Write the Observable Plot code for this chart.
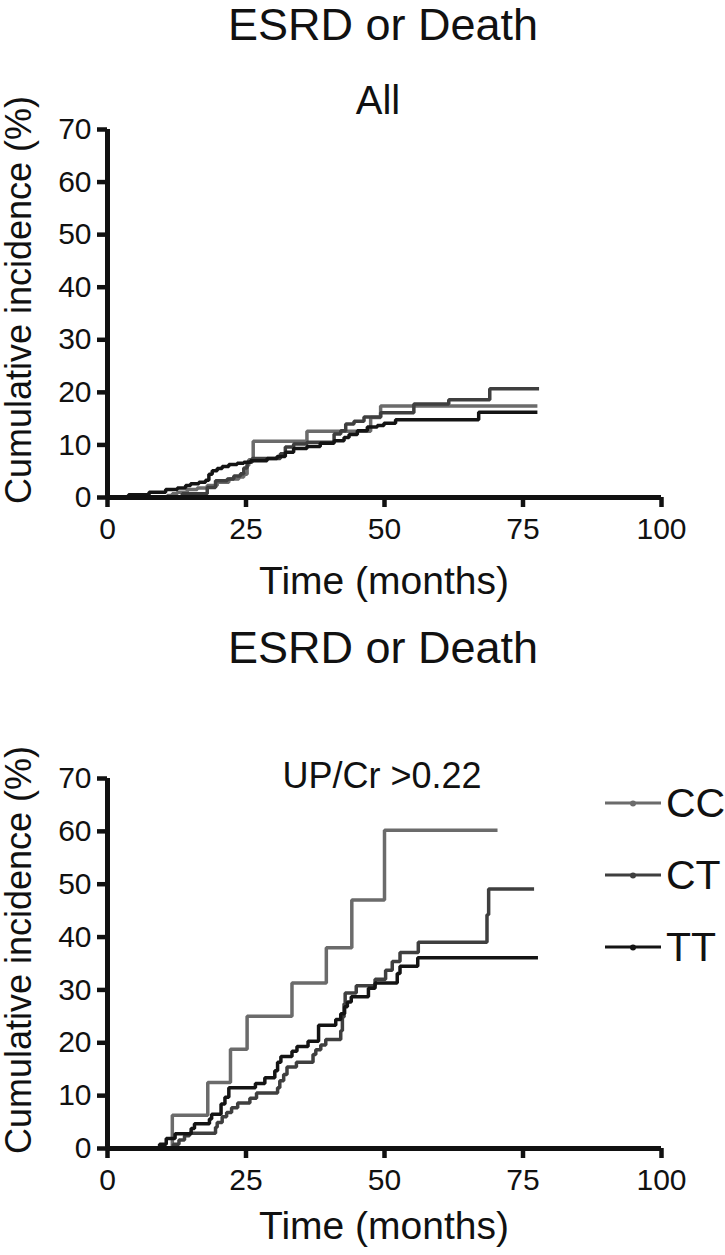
<!DOCTYPE html>
<html>
<head>
<meta charset="utf-8">
<script src="https://cdn.jsdelivr.net/npm/d3@7"></script>
<script src="https://cdn.jsdelivr.net/npm/@observablehq/plot@0.6"></script>
<style>
  html, body { margin: 0; padding: 0; background: #fff; }
  body { width: 725px; height: 1255px; position: relative; overflow: hidden; font-family: "Liberation Sans", Arial, sans-serif; color: #111; }
  .abs { position: absolute; white-space: nowrap; line-height: 1; }
  .title { font-size: 45px; transform: translateX(-50%); }
  .sub { font-size: 40px; transform: translateX(-50%); }
  .xlab { font-size: 39px; transform: translateX(-50%); }
  .ylab { font-size: 36px; transform: translate(-50%, -50%) rotate(-90deg); }
  .chart { position: absolute; left: 0; }
  .leg { position: absolute; display: flex; align-items: center; font-size: 41px; line-height: 1; transform: translateY(-50%); }
  .leg .ln { width: 56px; height: 3px; position: relative; margin-right: 5px; }
  .leg .ln::after { content: ""; position: absolute; left: 25px; top: -1.5px; width: 6px; height: 6px; border-radius: 3px; background: inherit; }
</style>
</head>
<body>
<div id="root"></div>
<script>
// ---------- data ----------
const groups = ["CC", "CT", "TT"];
const groupColors = ["#6b6b6b", "#3f3f3f", "#141414"];
const xTicks = [0, 25, 50, 75, 100];
const yTicks = [0, 10, 20, 30, 40, 50, 60, 70];

// Panel 1: All
const allCC_t = [0, 10.8, 11.7, 12.6, 14.4, 16.2, 18.0, 19.8, 21.9, 23.7, 24.6, 25.2, 25.5, 26.3, 36.0, 47.5, 49.3, 77.6];
const allCC_v = [0, 0.4, 0.7, 1.0, 1.5, 1.8, 2.3, 2.9, 3.5, 3.9, 4.4, 6.1, 7.2, 10.7, 12.6, 15.2, 17.4, 17.4];
const allCT_t = [0, 13.5, 18.0, 19.5, 21.6, 22.8, 24.0, 24.6, 25.2, 26.1, 31.2, 32.1, 33.6, 36.0, 40.9, 42.1, 43.0, 44.5, 46.3, 49.3, 55.3, 61.6, 69.0, 77.9];
const allCT_v = [0, 0.7, 1.9, 3.2, 3.5, 4.1, 4.5, 5.6, 6.7, 7.4, 8.3, 9.6, 10.2, 10.5, 12.1, 12.7, 14.0, 14.5, 15.3, 16.1, 17.8, 18.6, 20.7, 20.7];
const allTT_t = [0, 3.8, 7.5, 10.5, 12.6, 14.1, 15.0, 16.5, 17.7, 18.3, 18.9, 19.8, 20.7, 21.9, 23.4, 24.6, 25.8, 28.8, 30.6, 32.1, 33.6, 36.0, 38.4, 40.9, 42.7, 43.6, 45.1, 46.9, 48.7, 49.9, 52.0, 67.0, 77.6];
const allTT_v = [0, 0.5, 1.0, 1.5, 1.8, 2.3, 2.6, 2.9, 3.3, 4.4, 5.1, 5.5, 5.9, 6.3, 6.5, 6.7, 7.0, 7.4, 7.8, 8.6, 9.3, 9.7, 10.3, 10.8, 11.4, 12.0, 12.7, 13.4, 13.7, 14.1, 14.8, 16.2, 16.2];

// Panel 2: UP/Cr > 0.22
const upCC_t = [0, 11.7, 18.1, 22.2, 25.2, 33.3, 39.5, 44.1, 50.0, 70.4];
const upCC_v = [0, 6.3, 12.5, 18.8, 25.0, 31.3, 38.0, 47.0, 60.2, 60.2];
const upCT_t = [0, 11.9, 12.9, 13.9, 14.8, 19.5, 19.8, 20.7, 21.5, 22.4, 23.5, 25.7, 26.9, 30.7, 31.1, 31.8, 32.4, 34.1, 37.1, 37.6, 38.5, 39.4, 42.1, 42.4, 42.7, 42.9, 44.9, 48.3, 50.2, 51.4, 52.8, 56.1, 68.5, 68.8, 77.0];
const upCT_v = [0, 0.8, 1.6, 2.4, 2.9, 4.0, 4.9, 6.0, 6.8, 7.7, 8.6, 9.5, 10.5, 11.5, 12.8, 14.0, 15.4, 16.3, 17.8, 18.7, 19.6, 20.6, 22.3, 24.9, 27.4, 29.4, 30.8, 32.0, 33.7, 35.4, 37.1, 39.0, 44.2, 49.1, 49.1];
const upTT_t = [0, 9.4, 10.6, 12.2, 15.1, 15.7, 18.4, 18.8, 20.5, 21.2, 21.9, 26.7, 28.4, 30.2, 30.7, 31.3, 33.3, 34.2, 36.2, 38.1, 41.2, 42.1, 42.8, 43.3, 44.0, 47.1, 48.3, 52.3, 52.8, 56.0, 77.7];
const upTT_v = [0, 0.8, 1.9, 2.8, 3.8, 4.7, 5.6, 6.5, 8.4, 9.7, 11.5, 12.3, 13.4, 14.7, 16.3, 17.4, 18.4, 19.3, 20.3, 23.3, 24.4, 25.5, 26.8, 27.7, 28.7, 30.3, 31.3, 33.1, 34.5, 36.1, 36.1];

// ---------- helpers ----------
function rows(group, ts, vs) { return ts.map((t, i) => ({group, t, v: vs[i]})); }

const FONT = '"Liberation Sans", Arial, sans-serif';

function makeChart(series, {top, height, marginTop, marginBottom}) {
  const data = series.flat();
  const svg = Plot.plot({
    width: 725,
    height,
    marginLeft: 107,
    marginRight: 64,
    marginTop,
    marginBottom,
    style: {fontFamily: FONT, fontSize: "30px", color: "#111", background: "white", overflow: "visible"},
    x: {domain: [0, 100], ticks: xTicks},
    y: {domain: [0, 70], ticks: yTicks},
    color: {domain: groups, range: groupColors},
    marks: [
      Plot.axisX({ticks: xTicks, tickSize: 10, tickPadding: 10, strokeWidth: 4.5, fontSize: 30, label: null, stroke: "#111"}),
      Plot.axisY({ticks: yTicks, tickSize: 10, tickPadding: 6, strokeWidth: 4.5, fontSize: 30, label: null, stroke: "#111"}),
      Plot.line(data, {x: "t", y: "v", z: "group", stroke: "group", curve: "step-after", strokeWidth: 3.5, strokeLinejoin: "miter", strokeLinecap: "butt"}),
      Plot.ruleY([0], {stroke: "#111", strokeWidth: 5}),
      Plot.ruleX([0], {stroke: "#111", strokeWidth: 5})
    ]
  });
  svg.classList.add("chart");
  svg.style.top = top + "px";
  return svg;
}

const root = document.getElementById("root");
function addText(cls, text, x, y) {
  const d = document.createElement("div");
  d.className = "abs " + cls;
  d.textContent = text;
  d.style.left = x + "px";
  d.style.top = y + "px";
  root.appendChild(d);
  return d;
}

// Panel 1
root.appendChild(makeChart([
  rows("CC", allCC_t, allCC_v),
  rows("CT", allCT_t, allCT_v),
  rows("TT", allTT_t, allTT_v)
], {top: 100, height: 480, marginTop: 29, marginBottom: 83}));

// Panel 2
root.appendChild(makeChart([
  rows("CC", upCC_t, upCC_v),
  rows("CT", upCT_t, upCT_v),
  rows("TT", upTT_t, upTT_v)
], {top: 740, height: 500, marginTop: 38, marginBottom: 92}));

// Titles and labels
addText("title", "ESRD or Death", 383, 2);
addText("sub", "All", 378, 80);
addText("xlab", "Time (months)", 384, 561);
addText("title", "ESRD or Death", 383, 625);
addText("sub", "UP/Cr >0.22", 382, 758).style.fontSize = "36px";
addText("xlab", "Time (months)", 384, 1206);
addText("ylab", "Cumulative incidence (%)", 19, 300);
addText("ylab", "Cumulative incidence (%)", 19, 950);

// Legend
const legY = [803, 875, 947];
groups.forEach((g, i) => {
  const d = document.createElement("div");
  d.className = "leg";
  d.style.left = "605px";
  d.style.top = legY[i] + "px";
  const ln = document.createElement("span");
  ln.className = "ln";
  ln.style.background = groupColors[i];
  const tx = document.createElement("span");
  tx.textContent = g;
  d.appendChild(ln);
  d.appendChild(tx);
  root.appendChild(d);
});
</script>
</body>
</html>
